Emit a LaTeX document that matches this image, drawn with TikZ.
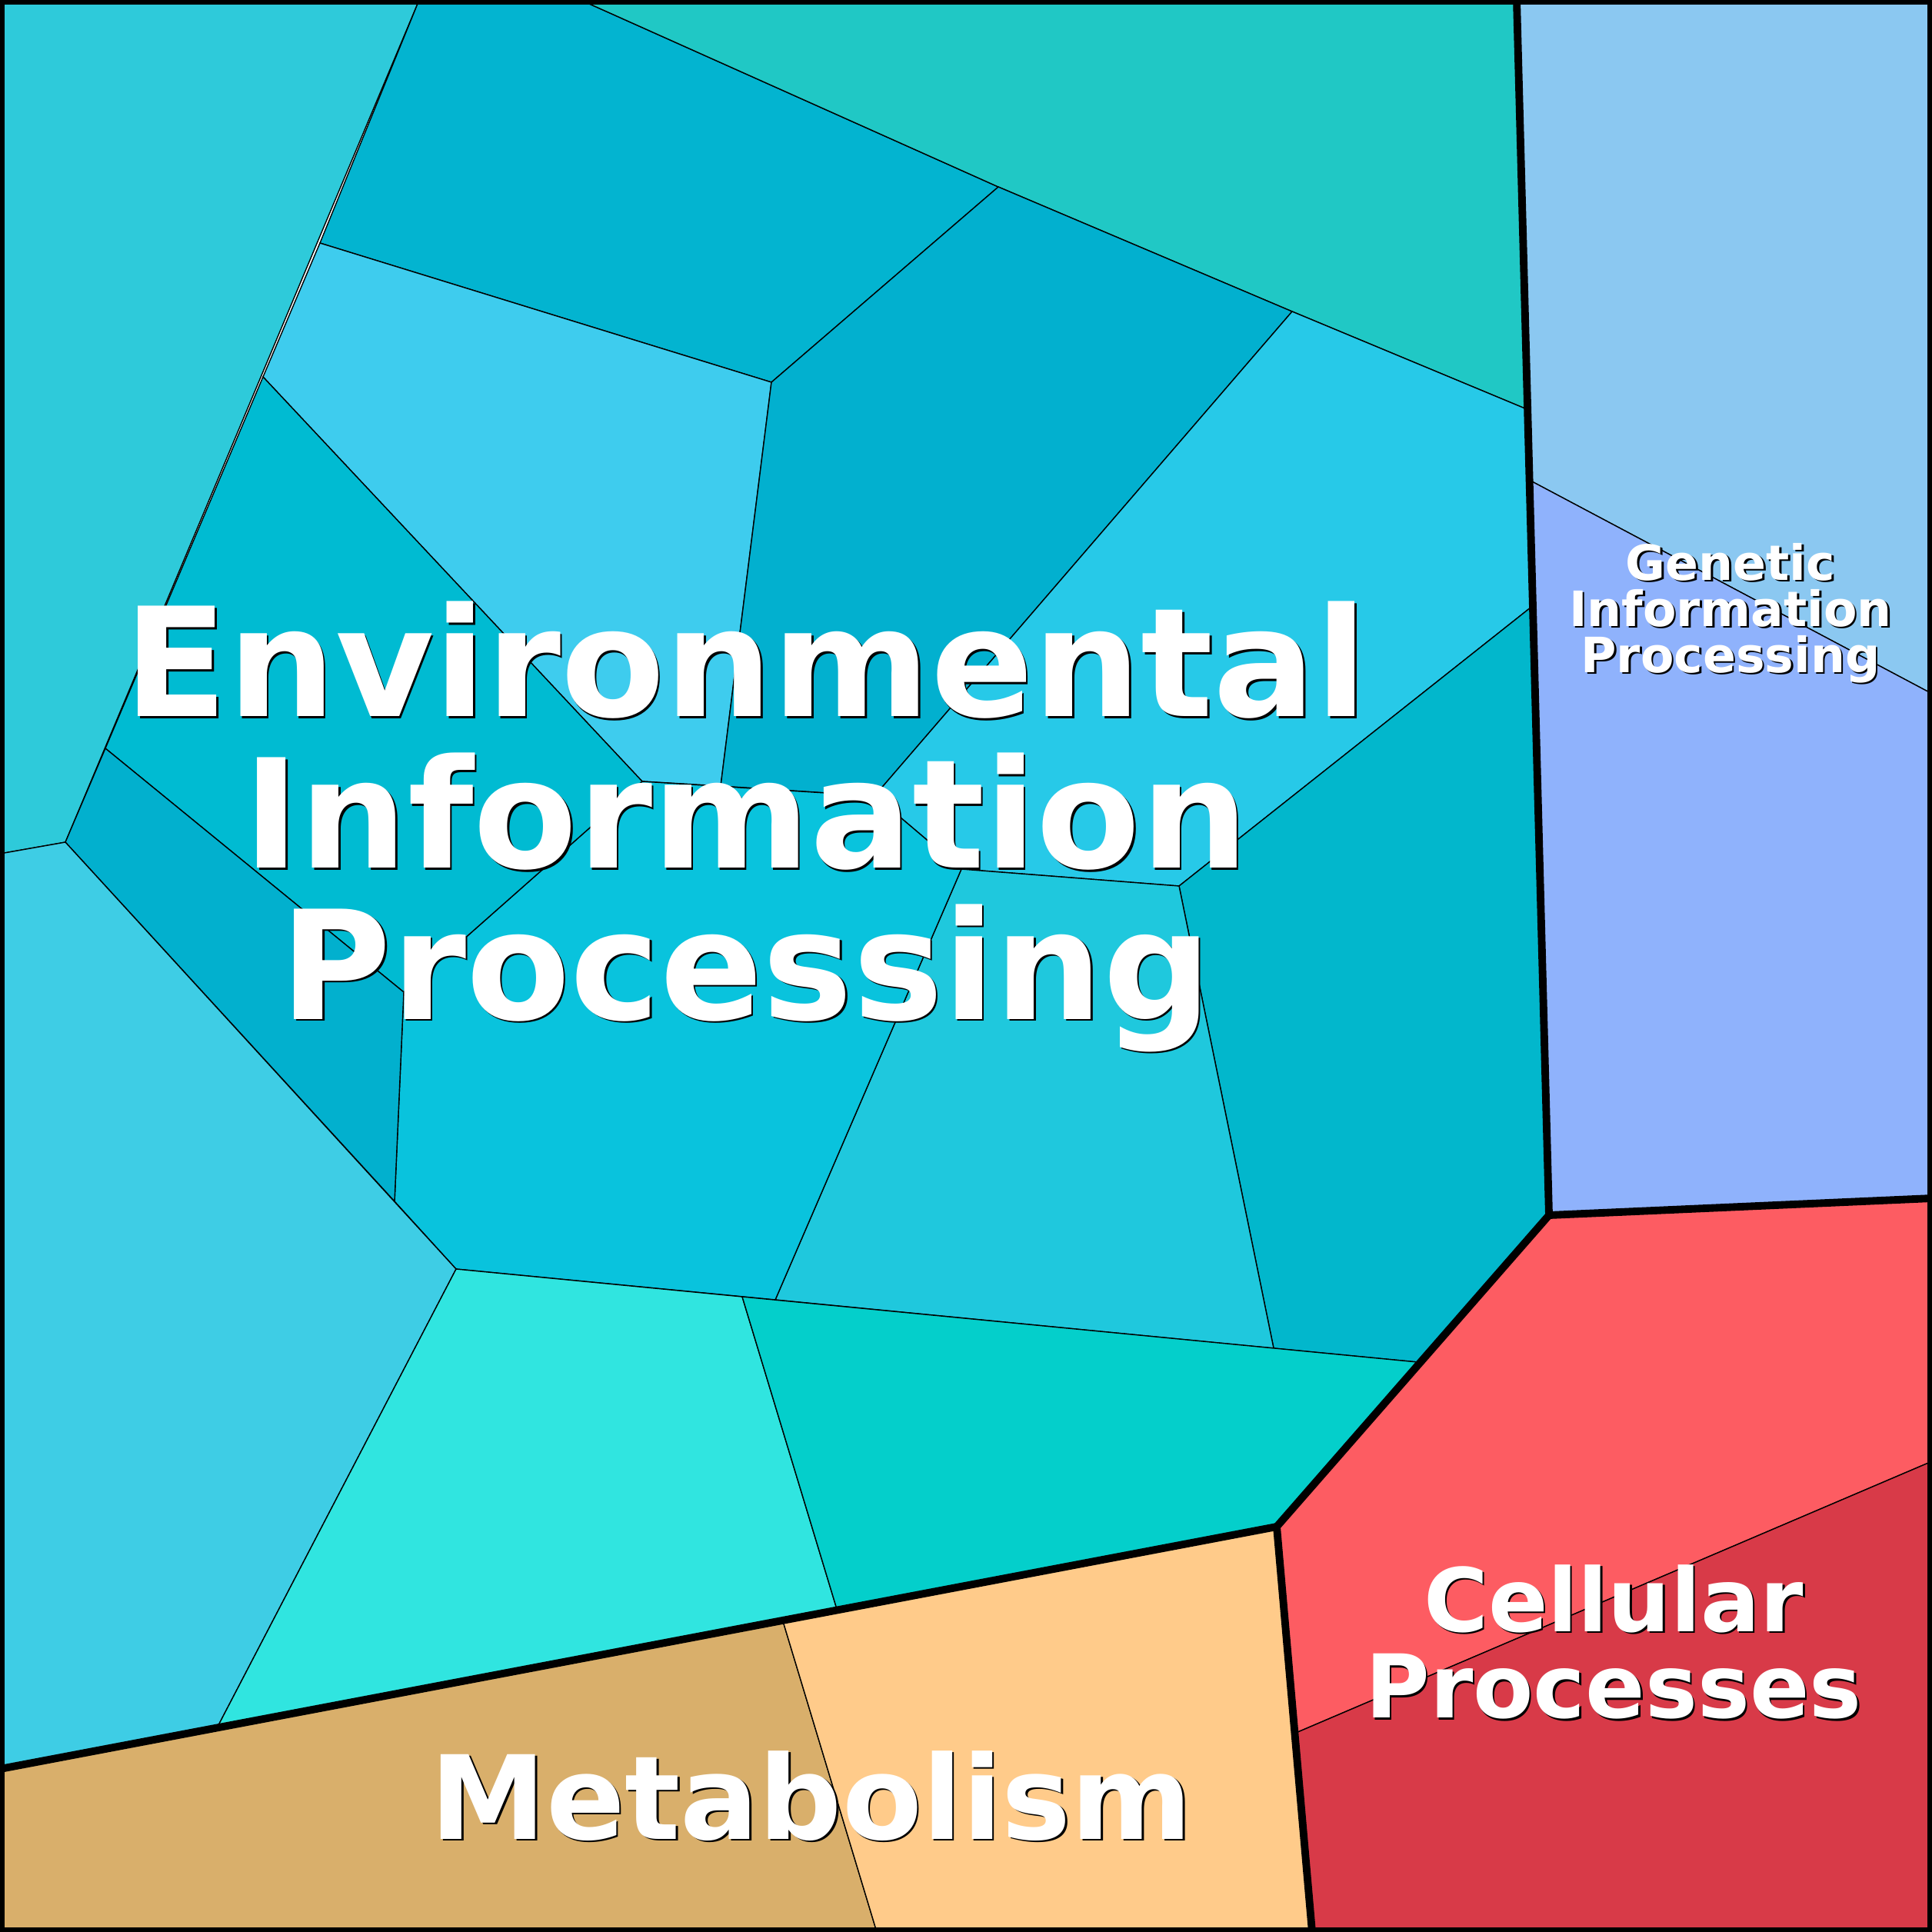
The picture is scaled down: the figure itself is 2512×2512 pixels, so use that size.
\documentclass[tikz,border=0pt]{standalone}
\usepackage{fontspec}
\setmainfont{DejaVu Sans}
\tikzset{
  cell/.style={draw=black, line width=0.4pt},
  split/.style={draw=black, line width=2.8pt},
  lbl/.style={font=\bfseries, text=white, align=center, inner sep=0pt},
  shd/.style={lbl, text=black},
}
\newcommand{\tagtext}[5]{% pos, size, skip, name, text
  \node[shd, font=\bfseries\fontsize{#2}{#3}\selectfont, xshift=0.7pt, yshift=-0.7pt] at #1 {#5};
  \node[lbl, font=\bfseries\fontsize{#2}{#3}\selectfont] (#4) at #1 {#5};}
\begin{document}
\begin{tikzpicture}[x=0.01cm, y=-0.01cm]
\useasboundingbox (0,0) rectangle (2512,2512);
% Environmental cells
\filldraw[cell, fill={rgb,255:red,46;green,202;blue,218}] (0,0) -- (545,0) -- (85,1095) -- (0,1110) -- cycle;
\filldraw[cell, fill={rgb,255:red,3;green,180;blue,208}] (545,0) -- (755,0) -- (1298,243) -- (1003,497) -- (416,316) -- cycle;
\filldraw[cell, fill={rgb,255:red,32;green,200;blue,197}] (755,0) -- (1972,0) -- (1985,532) -- (1680,405) -- (1298,243) -- cycle;
\filldraw[cell, fill={rgb,255:red,62;green,204;blue,238}] (416,316) -- (1003,497) -- (937,1022) -- (835,1016) -- (342,490) -- cycle;
\filldraw[cell, fill={rgb,255:red,2;green,176;blue,207}] (1003,497) -- (1298,243) -- (1680,405) -- (1137,1035) -- (937,1022) -- cycle;
\filldraw[cell, fill={rgb,255:red,39;green,201;blue,232}] (1680,405) -- (1985,532) -- (1990,790) -- (1533,1152) -- (1250,1130) -- (1165,1058) -- (1137,1035) -- cycle;
\filldraw[cell, fill={rgb,255:red,2;green,183;blue,204}] (1990,790) -- (2014,1580) -- (1843,1771) -- (1656,1753) -- (1533,1152) -- cycle;
\filldraw[cell, fill={rgb,255:red,31;green,200;blue,221}] (1533,1152) -- (1656,1753) -- (1008,1690) -- (1250,1130) -- cycle;
\filldraw[cell, fill={rgb,255:red,9;green,195;blue,221}] (835,1016) -- (1137,1035) -- (1165,1058) -- (1250,1130) -- (1008,1690) -- (593,1650) -- (513,1562) -- (525,1290) -- cycle;
\filldraw[cell, fill={rgb,255:red,0;green,187;blue,210}] (342,490) -- (835,1016) -- (525,1290) -- (137,973) -- cycle;
\filldraw[cell, fill={rgb,255:red,2;green,176;blue,206}] (137,973) -- (525,1290) -- (513,1562) -- (85,1095) -- cycle;
\filldraw[cell, fill={rgb,255:red,62;green,205;blue,229}] (0,1110) -- (85,1095) -- (593,1650) -- (283,2245) -- (0,2300) -- cycle;
\filldraw[cell, fill={rgb,255:red,48;green,229;blue,224}] (593,1650) -- (965,1686) -- (1088,2092) -- (283,2245) -- cycle;
\filldraw[cell, fill={rgb,255:red,4;green,207;blue,203}] (965,1686) -- (1843,1771) -- (1660,1985) -- (1088,2092) -- cycle;
% Genetic
\filldraw[cell, fill={rgb,255:red,139;green,200;blue,241}] (1972,0) -- (2512,0) -- (2512,902) -- (1990,625) -- cycle;
\filldraw[cell, fill={rgb,255:red,143;green,178;blue,252}] (1990,625) -- (2512,902) -- (2512,1558) -- (2014,1580) -- cycle;
% Cellular
\filldraw[cell, fill={rgb,255:red,253;green,92;blue,98}] (2014,1580) -- (2512,1558) -- (2512,1900) -- (1685,2253) -- (1660,1985) -- cycle;
\filldraw[cell, fill={rgb,255:red,216;green,58;blue,72}] (1685,2253) -- (2512,1900) -- (2512,2512) -- (1706,2512) -- cycle;
% Metabolism
\filldraw[cell, fill={rgb,255:red,217;green,175;blue,107}] (0,2300) -- (1018,2108) -- (1140,2512) -- (0,2512) -- cycle;
\filldraw[cell, fill={rgb,255:red,255;green,203;blue,138}] (1018,2108) -- (1660,1985) -- (1706,2512) -- (1140,2512) -- cycle;
% category borders
\draw[split] (1972,0) -- (2014,1580) -- (2512,1558);
\draw[split] (2014,1580) -- (1660,1985) -- (1706,2512);
\draw[split] (1660,1985) -- (0,2300);
\draw[line width=3.4pt] (0,0) rectangle (2512,2512);
% labels
\tagtext{(970,1075)}{56}{56}{env}{Environmental\\Information\\Processing}
\tagtext{(2250,797)}{18}{17}{gen}{Genetic\\Information\\Processing}
\tagtext{(2098,2135)}{32.5}{32}{cel}{Cellular\\Processes}
\tagtext{(1055,2335)}{43}{43}{met}{Metabolism}
\end{tikzpicture}
\end{document}
